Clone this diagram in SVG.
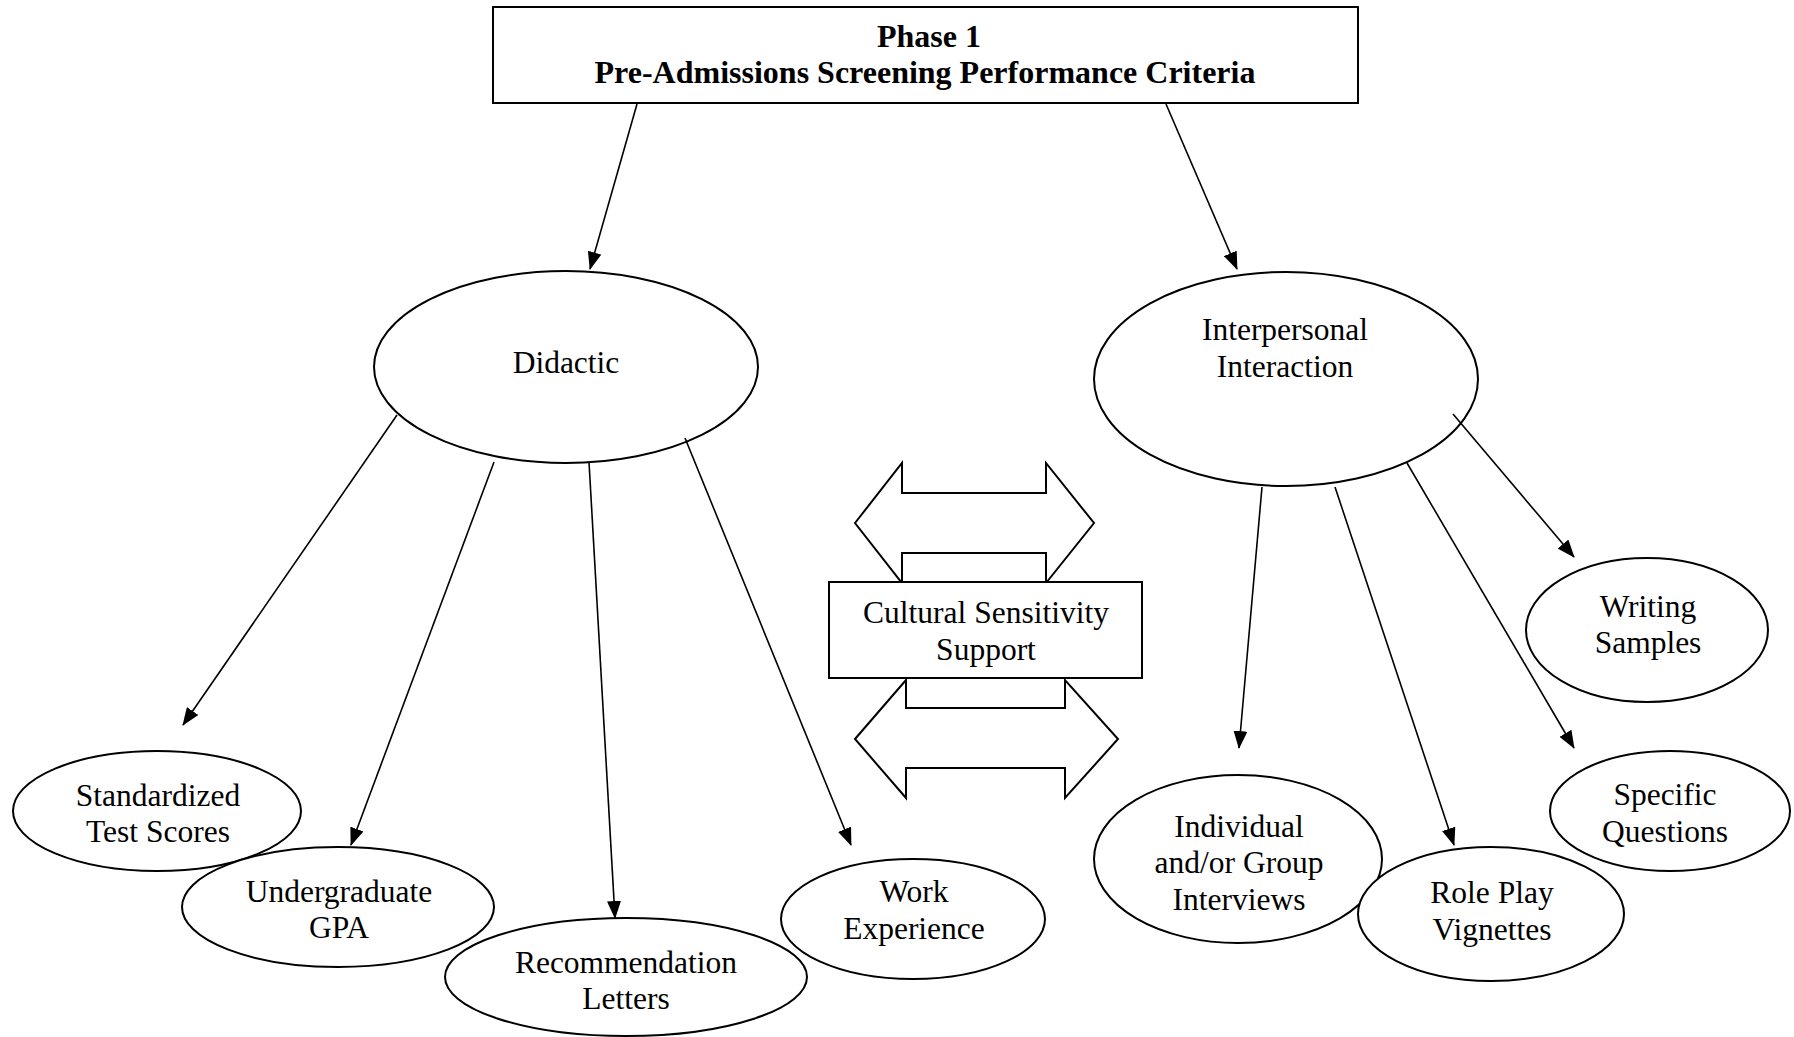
<svg xmlns="http://www.w3.org/2000/svg" width="1794" height="1037" viewBox="0 0 1794 1037">
<style>
text{font-family:"Liberation Serif","Times New Roman",serif;font-size:31.5px;fill:#000;text-anchor:middle}
.b{font-weight:bold;font-size:32px}
.n{fill:#fff;stroke:#000;stroke-width:2}
.c{stroke:#000;stroke-width:1.6;fill:none;marker-end:url(#ah)}
</style>
<defs>
<marker id="ah" markerUnits="userSpaceOnUse" markerWidth="18" markerHeight="14" viewBox="0 0 18 14" refX="17" refY="7" orient="auto">
<path d="M0,0 L18,7 L0,14 Z" fill="#000"/>
</marker>
</defs>
<rect width="1794" height="1037" fill="#fff"/>
<g id="arrow-top">
<path class="n" d="M855,523 L902,463 L902,493 L1046,493 L1046,463 L1094,523 L1046,583 L1046,553 L902,553 L902,583 Z"/>
</g>
<g id="arrow-bottom">
<path class="n" d="M855,739 L906,680 L906,708 L1065,708 L1065,680 L1118,739 L1065,798 L1065,768 L906,768 L906,798 Z"/>
</g>
<g id="title">
<rect class="n" x="493" y="7" width="865" height="96"/>
<text class="b" x="929" y="47">Phase 1</text>
<text class="b" x="925" y="83">Pre-Admissions Screening Performance Criteria</text>
</g>
<g id="cultural">
<rect class="n" x="829" y="582" width="313" height="96"/>
<text x="986" y="623">Cultural Sensitivity</text>
<text x="986" y="660">Support</text>
</g>
<g id="didactic">
<ellipse class="n" cx="566" cy="367" rx="192" ry="96"/>
<text x="566" y="373">Didactic</text>
</g>
<g id="interpersonal">
<ellipse class="n" cx="1286" cy="379" rx="192" ry="107"/>
<text x="1285" y="340">Interpersonal</text>
<text x="1285" y="377">Interaction</text>
</g>
<g id="standardized">
<ellipse class="n" cx="157" cy="811" rx="144" ry="60"/>
<text x="158" y="806">Standardized</text>
<text x="158" y="842">Test Scores</text>
</g>
<g id="undergraduate">
<ellipse class="n" cx="338" cy="907" rx="156" ry="60"/>
<text x="339" y="902">Undergraduate</text>
<text x="339" y="938">GPA</text>
</g>
<g id="recommendation">
<ellipse class="n" cx="626" cy="977" rx="181" ry="59"/>
<text x="626" y="973">Recommendation</text>
<text x="626" y="1009">Letters</text>
</g>
<g id="work">
<ellipse class="n" cx="913" cy="919" rx="132" ry="60"/>
<text x="914" y="902">Work</text>
<text x="914" y="939">Experience</text>
</g>
<g id="individual">
<ellipse class="n" cx="1238" cy="859" rx="144" ry="84"/>
<text x="1239" y="837">Individual</text>
<text x="1239" y="873">and/or Group</text>
<text x="1239" y="910">Interviews</text>
</g>
<g id="roleplay">
<ellipse class="n" cx="1491" cy="914" rx="133" ry="67"/>
<text x="1492" y="903">Role Play</text>
<text x="1492" y="940">Vignettes</text>
</g>
<g id="writing">
<ellipse class="n" cx="1647" cy="630" rx="121" ry="72"/>
<text x="1648" y="617">Writing</text>
<text x="1648" y="653">Samples</text>
</g>
<g id="specific">
<ellipse class="n" cx="1670" cy="811" rx="120" ry="60"/>
<text x="1665" y="805">Specific</text>
<text x="1665" y="842">Questions</text>
</g>
<g id="connectors">
<line class="c" x1="637" y1="104" x2="590" y2="269"/>
<line class="c" x1="1166" y1="104" x2="1237" y2="269"/>
<line class="c" x1="397" y1="415" x2="183" y2="725"/>
<line class="c" x1="494" y1="462" x2="351" y2="845"/>
<line class="c" x1="589" y1="462" x2="615" y2="918"/>
<line class="c" x1="685" y1="438" x2="851" y2="845"/>
<line class="c" x1="1262" y1="487" x2="1239" y2="748"/>
<line class="c" x1="1335" y1="487" x2="1454" y2="845"/>
<line class="c" x1="1407" y1="463" x2="1574" y2="748"/>
<line class="c" x1="1453" y1="414" x2="1574" y2="557"/>
</g>
</svg>
